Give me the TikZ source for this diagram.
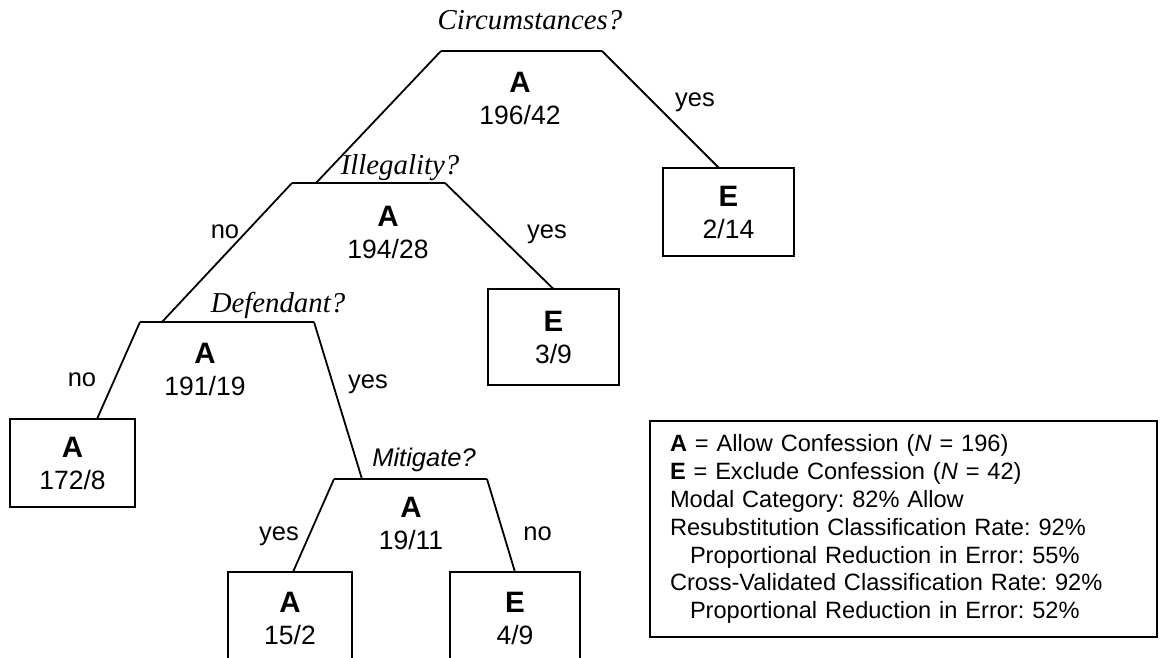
\documentclass[tikz,border=0pt]{standalone}
\usepackage{fontspec}
\setmainfont{Liberation Serif}
\newfontfamily\arialf{Liberation Sans}
\frenchspacing
% class letter, set a little larger than the counts below it
\newcommand\clsmark[1]{{\fontsize{29.5}{32}\selectfont\bfseries #1}}
\begin{document}
\begin{tikzpicture}[x=1pt,y=-1pt,
  every node/.style={inner sep=0pt,outer sep=0pt},
  stat/.style={font=\arialf\fontsize{26.5}{32}\selectfont, align=center},
  question/.style={font=\fontsize{28.8}{34}\selectfont\itshape, anchor=base},
  answer/.style={font=\arialf\fontsize{25.5}{30}\selectfont, anchor=base},
  leaf/.style={draw, line width=1.8pt, font=\arialf\fontsize{26.5}{32}\selectfont, align=center},
  branch/.style={line width=1.8pt},
]
\useasboundingbox (0,0) rectangle (1173,658);
\clip (0,0) rectangle (1173,658);

% ends of the horizontal split bars
\coordinate (s1l) at (441,51);  \coordinate (s1r) at (602,51);
\coordinate (s2l) at (292,183); \coordinate (s2r) at (445,183);
\coordinate (s3l) at (140,322); \coordinate (s3r) at (314,322);
\coordinate (s4l) at (334,479); \coordinate (s4r) at (487,479);

% split questions
\node[question] (q1) at (530,30)  {Circumstances?};
\node[question] (q2) at (400,175) {Illegality?};
\node[question] (q3) at (278,312) {Defendant?};
\node[question, font=\arialf\fontsize{25.5}{30}\selectfont\itshape] (q4) at (424,466) {Mitigate?};

% modal class and counts at each split
\node[stat] (n1) at (520,98)    {\clsmark{A}\\196/42};
\node[stat] (n2) at (388,232.5) {\clsmark{A}\\194/28};
\node[stat] (n3) at (205,369)   {\clsmark{A}\\191/19};
\node[stat] (n4) at (411,523.5) {\clsmark{A}\\19/11};

% terminal nodes
\node[leaf, minimum width=131pt, minimum height=88pt] (e1) at (728.5,212) {\clsmark{E}\\2/14};
\node[leaf, minimum width=131pt, minimum height=96pt] (e2) at (553.5,337) {\clsmark{E}\\3/9};
\node[leaf, minimum width=125pt, minimum height=88pt] (a1) at (72.5,463) {\clsmark{A}\\172/8};
\node[leaf, minimum width=124pt, minimum height=92pt] (a2) at (290,618) {\clsmark{A}\\15/2};
\node[leaf, minimum width=130pt, minimum height=92pt] (e3) at (515,618) {\clsmark{E}\\4/9};

% branches
\draw[branch] (s1l) -- (s1r);
\draw[branch] (s1l) -- ([xshift=24pt]s2l);
\draw[branch] (s1r) -- ([xshift=-9.5pt]e1.north);

\draw[branch] (s2l) -- (s2r);
\draw[branch] (s2l) -- ([xshift=22pt]s3l);
\draw[branch] (s2r) -- (e2.north);

\draw[branch] (s3l) -- (s3r);
\draw[branch] (s3l) -- ([xshift=24.5pt]a1.north);
\draw[branch] (s3r) -- ([xshift=28pt]s4l);

\draw[branch] (s4l) -- (s4r);
\draw[branch] (s4l) -- ([xshift=3pt]a2.north);
\draw[branch] (s4r) -- (e3.north);

% branch answers
\node[answer] (y1) at (695,106.7) {yes};
\node[answer] (o2) at (225,238)   {no};
\node[answer] (y2) at (547,238)   {yes};
\node[answer] (o3) at (82,386)    {no};
\node[answer] (y3) at (368,388)   {yes};
\node[answer] (y4) at (279,540)   {yes};
\node[answer] (o4) at (537.5,540) {no};

% key
\node[draw, line width=1.8pt, minimum width=507pt, minimum height=216pt,
      text width=467pt, align=left, font=\arialf\fontsize{23.6}{27.9}\selectfont]
  (legend) at (903.5,529) {%
  \textbf{A} = Allow Confession (\textit{N} = 196)\\
  \textbf{E} = Exclude Confession (\textit{N} = 42)\\
  Modal Category: 82\% Allow\\
  Resubstitution Classification Rate: 92\%\\
  \hspace*{20pt}Proportional Reduction in Error: 55\%\\
  Cross-Validated Classification Rate: 92\%\\
  \hspace*{20pt}Proportional Reduction in Error: 52\%};
\end{tikzpicture}
\end{document}
